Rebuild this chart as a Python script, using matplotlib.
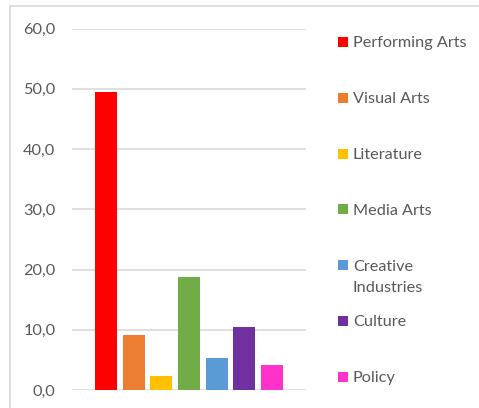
import matplotlib
matplotlib.use("Agg")
import matplotlib.pyplot as plt
from matplotlib.lines import Line2D
from matplotlib.patches import Rectangle

plt.rcParams['font.family'] = ['Lato', 'DejaVu Sans']

categories = ["Performing Arts", "Visual Arts", "Literature", "Media Arts",
              "Creative\nIndustries", "Culture", "Policy"]
values = [49.5, 9.1, 2.3, 18.8, 5.3, 10.5, 4.2]
colors = ["#FF0000", "#ED7D31", "#FFC000", "#70AD47", "#5B9BD5", "#7030A0", "#FF33CC"]
yticks = [0, 10, 20, 30, 40, 50, 60]

W, H = 479, 408
TEXT = "#595959"
fig = plt.figure(figsize=(W / 100, H / 100), dpi=100)
ax = fig.add_axes([72 / W, 1 - 390 / H, (306 - 72) / W, (390 - 28.5) / H])

pos = list(range(len(values)))
ax.bar(pos, values, width=0.79, color=colors, zorder=3)

ax.set_ylim(0, 60)
ax.set_xlim(-1.22, len(values) - 1 + 1.22)
ax.set_yticks(yticks)
ax.set_yticklabels([f"{t:.1f}".replace(".", ",") for t in yticks],
                   fontsize=11.7, color=TEXT)
ax.tick_params(axis="y", length=0, pad=12)
ax.set_xticks([])
ax.grid(axis="y", color="#D9D9D9", linewidth=1.2, zorder=0)
for s in ax.spines.values():
    s.set_visible(False)

# legend: fixed slots down the right side, long names wrap downwards
px = lambda x, y: (x / W, 1 - y / H)
slot0, step = 42, 55.8
for i, (name, c) in enumerate(zip(categories, colors)):
    yc = slot0 + i * step
    fig.add_artist(Rectangle(px(338, yc + 5), 10 / W, 10 / H,
                             facecolor=c, edgecolor="none",
                             transform=fig.transFigure))
    fig.text(*px(353, yc - 5.5), name, fontsize=11.7, color=TEXT,
             va="top", ha="left", linespacing=1.65)

# chart area outline (top and left edges)
fig.add_artist(Line2D([9.5 / W, 1], [1 - 6 / H, 1 - 6 / H], color="#D9D9D9", linewidth=1.2))
fig.add_artist(Line2D([9.5 / W, 9.5 / W], [0, 1 - 6 / H], color="#D9D9D9", linewidth=1.2))

fig.savefig("out.png", dpi=100, facecolor="white")
